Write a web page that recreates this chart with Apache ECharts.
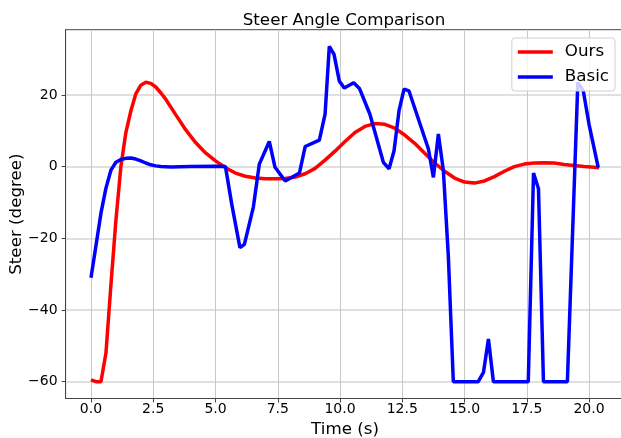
<!DOCTYPE html>
<html>
<head>
<meta charset="utf-8" />
<title>Steer Angle Comparison</title>
<script src="https://cdn.jsdelivr.net/npm/echarts@6/dist/echarts.min.js"></script>
<style>
  html, body { margin: 0; padding: 0; background: #fff; }
  #chart { width: 621px; height: 438px; }
</style>
</head>
<body>
<div id="chart"></div>
<script type="text/javascript">
// time (s) and steer (degree)
const oursT = [0, 0.2, 0.4, 0.6, 0.8, 1.0, 1.2, 1.4, 1.6, 1.8, 2.0, 2.2, 2.4, 2.6, 2.8, 3.0,
  3.4, 3.8, 4.2, 4.6, 5.0, 5.4, 5.8, 6.2, 6.6, 7.0, 7.4, 7.8, 8.2, 8.6, 9.0, 9.4, 9.8,
  10.2, 10.6, 11.0, 11.4, 11.8, 12.2, 12.6, 13.0, 13.4, 13.8, 14.2, 14.6, 15.0, 15.4,
  15.8, 16.2, 16.6, 17.0, 17.4, 17.8, 18.2, 18.6, 19.0, 19.4, 19.8, 20.2, 20.4];
const oursV = [-59.5, -60, -60, -52, -33, -15, 0, 9.5, 15.5, 20.3, 22.7, 23.5, 23.2, 22.2, 20.6, 18.8,
  14.5, 10.3, 6.7, 3.8, 1.6, -0.3, -1.8, -2.7, -3.2, -3.4, -3.4, -3.3, -2.9, -2.0, -0.5, 1.8, 4.3,
  7.0, 9.5, 11.2, 12.0, 11.8, 10.7, 8.8, 6.5, 3.7, 1.0, -1.3, -3.2, -4.3, -4.6,
  -4.0, -2.8, -1.3, 0.0, 0.7, 1.0, 1.1, 1.0, 0.6, 0.3, 0.0, -0.2, -0.3];

const basicT = [0, 0.2, 0.4, 0.6, 0.8, 1.0, 1.2, 1.4, 1.6, 1.8, 2.0, 2.2, 2.4, 2.6, 2.8, 3.2, 4.0, 5.0,
  5.4, 5.65, 5.98, 6.16, 6.52, 6.76, 7.16, 7.39, 7.8, 8.37, 8.6, 9.17, 9.4, 9.57, 9.76, 9.97,
  10.17, 10.55, 10.78, 11.2, 11.74, 11.97, 12.17, 12.37, 12.57, 12.77, 13.55, 13.75, 13.95,
  14.15, 14.35, 14.55, 15.55, 15.76, 15.96, 16.16, 17.56, 17.77, 17.97, 18.17, 19.13,
  19.55, 19.77, 20.0, 20.37];
const basicV = [-31, -22, -13, -6, -1, 1.2, 2.0, 2.3, 2.4, 2.1, 1.6, 1.0, 0.5, 0.2, 0, -0.1, 0, 0.1,
  0, -10.4, -22.6, -21.7, -11.3, 0.7, 7.0, -0.2, -4.0, -1.8, 5.6, 7.4, 14.6, 33.5, 31.3, 23.9,
  21.9, 23.4, 21.8, 14.6, 1.2, -0.6, 4.4, 15.6, 21.6, 21.1, 4.9, -3.0, 9.1,
  -1.1, -25, -60, -60, -57.4, -48.1, -60, -60, -1.8, -6.2, -60, -60,
  23.5, 21.1, 11.8, -0.3];

const xTickVals = [0, 2.5, 5, 7.5, 10, 12.5, 15, 17.5, 20];
const yTickVals = [-60, -40, -20, 0, 20];

function pairs(t, v) {
  return t.map(function (x, i) { return [x, v[i]]; });
}
function minus(s) { return String(s).replace('-', '\u2212'); }

const FONT = 'DejaVu Sans';
const AXIS_COLOR = '#444';

const myChart = echarts.init(document.getElementById('chart'), null, { renderer: 'canvas' });
const option = {
  animation: false,
  backgroundColor: '#fff',
  title: {
    text: 'Steer Angle Comparison',
    left: 339,
    textAlign: 'center',
    top: 7,
    textStyle: { fontFamily: FONT, fontSize: 16.7, fontWeight: 'normal', color: '#000' }
  },
  grid: {
    left: 65.6,
    top: 29.7,
    width: 558.8,
    height: 368.8,
    show: true,
    borderColor: AXIS_COLOR,
    borderWidth: 1,
    containLabel: false,
    outerBoundsMode: 'none'
  },
  legend: {
    orient: 'vertical',
    right: 6,
    top: 38,
    padding: [5, 6, 5, 6],
    itemGap: 7,
    itemWidth: 35,
    itemHeight: 3.5,
    icon: 'rect',
    backgroundColor: 'rgba(255,255,255,0.8)',
    borderColor: '#d0d0d0',
    borderWidth: 1,
    borderRadius: 3,
    textStyle: { fontFamily: FONT, fontSize: 16.7, color: '#000', lineHeight: 18, padding: [0, 0, 0, 7] },
    data: ['Ours', 'Basic']
  },
  xAxis: {
    type: 'value',
    min: -1.02,
    max: 21.42,
    name: 'Time (s)',
    nameLocation: 'middle',
    nameGap: 23,
    nameMoveOverlap: false,
    nameTextStyle: { fontFamily: FONT, fontSize: 16.7, color: '#000' },
    axisLine: { show: true, onZero: false, lineStyle: { color: AXIS_COLOR, width: 1 } },
    axisTick: { show: true, length: 4, lineStyle: { color: AXIS_COLOR }, customValues: xTickVals },
    axisLabel: {
      customValues: xTickVals,
      margin: 4,
      fontFamily: FONT, fontSize: 14, color: '#000',
      formatter: function (v) { return minus(v.toFixed(1)); }
    },
    splitLine: { show: true, lineStyle: { color: '#c8c8c8', width: 1 } }
  },
  yAxis: {
    type: 'value',
    min: -64.68,
    max: 38.18,
    name: 'Steer (degree)',
    nameLocation: 'middle',
    nameGap: 40,
    nameMoveOverlap: false,
    nameTextStyle: { fontFamily: FONT, fontSize: 16.7, color: '#000' },
    axisLine: { show: true, onZero: false, lineStyle: { color: AXIS_COLOR, width: 1 } },
    axisTick: { show: true, length: 4, lineStyle: { color: AXIS_COLOR }, customValues: yTickVals },
    axisLabel: {
      customValues: yTickVals,
      margin: 8,
      fontFamily: FONT, fontSize: 14, color: '#000',
      formatter: function (v) { return minus(Math.round(v)); }
    },
    splitLine: { show: true, lineStyle: { color: '#d6d6d6', width: 1.5 } }
  },
  series: [
    {
      name: 'Ours',
      type: 'line',
      data: pairs(oursT, oursV),
      symbol: 'none',
      smooth: false,
      color: '#ff0000',
      lineStyle: { color: '#ff0000', width: 3.5 },
      z: 2
    },
    {
      name: 'Basic',
      type: 'line',
      data: pairs(basicT, basicV),
      symbol: 'none',
      smooth: false,
      color: '#0000ff',
      lineStyle: { color: '#0000ff', width: 3.5 },
      z: 3
    }
  ]
};
myChart.setOption(option);
</script>
</body>
</html>
